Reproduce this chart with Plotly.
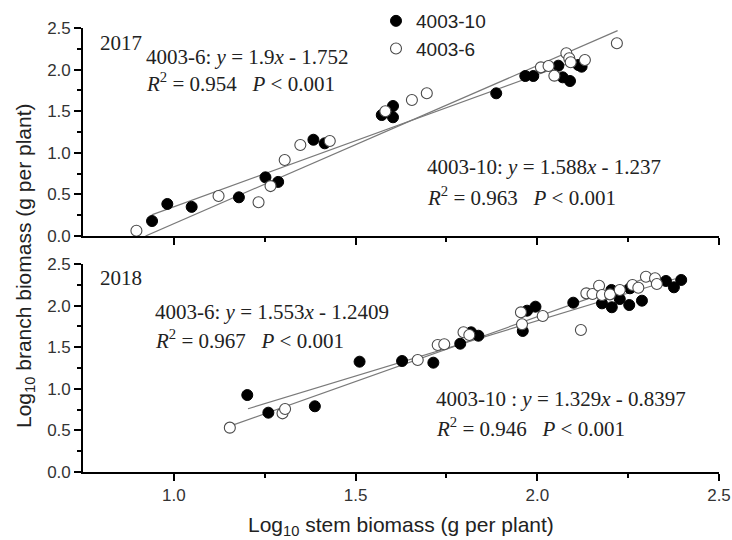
import plotly.graph_objects as go

# ---------------- data ----------------
# 2017 panel
x17_10 = [0.940, 0.982, 1.049, 1.179, 1.252, 1.287, 1.384, 1.415, 1.572, 1.603, 1.603,
          1.887, 1.967, 1.989, 2.058, 2.070, 2.090, 2.113, 2.122]
y17_10 = [0.18, 0.385, 0.35, 0.465, 0.705, 0.65, 1.157, 1.114, 1.454, 1.5625, 1.427,
          1.715, 1.923, 1.923, 2.047, 1.907, 1.863, 2.055, 2.035]
x17_6 = [0.897, 1.123, 1.233, 1.266, 1.305, 1.348, 1.429, 1.582, 1.655, 1.696,
         2.010, 2.031, 2.047, 2.080, 2.088, 2.092, 2.131, 2.219]
y17_6 = [0.064, 0.48, 0.405, 0.60, 0.913, 1.094, 1.142, 1.50, 1.635, 1.715,
         2.027, 2.043, 1.927, 2.196, 2.136, 2.088, 2.115, 2.316]

# 2018 panel
x18_10 = [1.202, 1.260, 1.388, 1.511, 1.628, 1.714, 1.788, 1.818, 1.838, 1.960, 1.972,
          1.995, 2.099, 2.178, 2.204, 2.205, 2.227, 2.253, 2.255, 2.288, 2.354, 2.376, 2.396]
y18_10 = [0.925, 0.713, 0.79, 1.326, 1.334, 1.314, 1.542, 1.679, 1.638, 1.695, 1.939,
          1.987, 2.035, 2.027, 2.188, 1.98, 2.079, 2.007, 2.208, 2.059, 2.296, 2.22, 2.308]
x18_6 = [1.154, 1.299, 1.306, 1.671, 1.726, 1.744, 1.797, 1.813, 1.955, 1.958, 2.015,
         2.120, 2.135, 2.152, 2.170, 2.178, 2.200, 2.227, 2.262, 2.278, 2.299, 2.324, 2.329]
y18_6 = [0.533, 0.705, 0.757, 1.346, 1.526, 1.535, 1.679, 1.647, 1.919, 1.775, 1.875,
         1.707, 2.147, 2.139, 2.239, 2.127, 2.135, 2.188, 2.248, 2.215, 2.347, 2.328, 2.26]

# regression fits stated on the chart: slope, intercept, x range
fit17_6 = (1.9, -1.752, [0.922, 2.221])
fit17_10 = (1.588, -1.237, [0.939, 2.122])
fit18_6 = (1.553, -1.2409, [1.154, 2.33])
fit18_10 = (1.329, -0.8397, [1.204, 2.38])

x_ticks = [1.0, 1.5, 2.0, 2.5]
x_minor = [1.25, 1.75, 2.25]
y_ticks = [0.0, 0.5, 1.0, 1.5, 2.0, 2.5]
y_minor = [0.25, 0.75, 1.25, 1.75, 2.25]

# ---------------- figure ----------------
W, H = 732, 540
ML, MR, MT, MB = 83, 13, 28, 68
plot_w = W - ML - MR
plot_h = H - MT - MB


def py(p):
    """pixel row -> paper y"""
    return (H - MB - p) / plot_h


def px(p):
    """pixel column -> paper x"""
    return (p - ML) / plot_w


fig = go.Figure()

filled = dict(color="black", size=11, line=dict(color="black", width=1))
hollow = dict(color="white", size=11, line=dict(color="#4a4a4a", width=1.1))
line_style = dict(color="#7a7a7a", width=1.2)

for (a, b, xr), xa, ya in [(fit17_6, "x", "y"), (fit17_10, "x", "y"),
                           (fit18_6, "x2", "y2"), (fit18_10, "x2", "y2")]:
    fig.add_trace(go.Scatter(x=xr, y=[a * v + b for v in xr], mode="lines",
                             line=line_style, showlegend=False, hoverinfo="skip",
                             xaxis=xa, yaxis=ya))

fig.add_trace(go.Scatter(x=x17_10, y=y17_10, mode="markers", marker=filled, name="4003-10",
                         legendgroup="a", cliponaxis=False, xaxis="x", yaxis="y"))
fig.add_trace(go.Scatter(x=x17_6, y=y17_6, mode="markers", marker=hollow, name="4003-6",
                         legendgroup="b", cliponaxis=False, xaxis="x", yaxis="y"))
fig.add_trace(go.Scatter(x=x18_10, y=y18_10, mode="markers", marker=filled, name="4003-10",
                         legendgroup="a", showlegend=False, cliponaxis=False,
                         xaxis="x2", yaxis="y2"))
fig.add_trace(go.Scatter(x=x18_6, y=y18_6, mode="markers", marker=hollow, name="4003-6",
                         legendgroup="b", showlegend=False, cliponaxis=False,
                         xaxis="x2", yaxis="y2"))

tickfont = dict(family="Liberation Sans, Arial", size=17, color="#333333")
common_x = dict(range=[0.75, 2.5], tickvals=x_ticks, ticks="outside", ticklen=7, tickwidth=1.5,
                tickcolor="black", showline=True, linecolor="black", linewidth=1.6,
                showgrid=False, zeroline=False, tickfont=tickfont,
                minor=dict(tickvals=x_minor, ticks="outside", ticklen=4,
                           tickwidth=1.5, tickcolor="black", showgrid=False))
common_y = dict(range=[0, 2.5], tickvals=y_ticks,
                ticks="outside", ticklen=7, tickwidth=1.5, tickcolor="black",
                showline=True, linecolor="black", linewidth=1.6, showgrid=False,
                zeroline=False, tickfont=tickfont,
                minor=dict(tickvals=y_minor, ticks="outside",
                           ticklen=4, tickwidth=1.5, tickcolor="black", showgrid=False))

fig.update_layout(
    width=W, height=H,
    margin=dict(l=ML, r=MR, t=MT, b=MB, autoexpand=False),
    plot_bgcolor="white", paper_bgcolor="white",
    xaxis=dict(common_x, anchor="y", showticklabels=False),
    yaxis=dict(common_y, anchor="x", domain=[py(236), 1.0], tickformat=".1f"),
    xaxis2=dict(common_x, anchor="y2", tickformat=".1f", ticklabeloverflow="allow"),
    yaxis2=dict(common_y, anchor="x2", domain=[0.0, py(264)], tickformat=".1f"),
    legend=dict(x=px(376), y=py(2), xanchor="left", yanchor="top",
                font=dict(family="Liberation Sans, Arial", size=19, color="#222222"),
                bgcolor="rgba(0,0,0,0)", tracegroupgap=0, itemwidth=30),
    showlegend=True,
)

serif = dict(family="Liberation Serif, Times New Roman", size=21, color="#222222")
sp = "\u00a0\u00a0\u00a0"
annots = [
    ("x", "y", 0.790, 2.32, "2017"),
    ("x", "y", 0.918, 2.15, "4003-6: <i>y</i> = 1.9<i>x</i> - 1.752"),
    ("x", "y", 0.918, 1.84, "<i>R</i><sup>2</sup> = 0.954" + sp + "<i>P</i> &lt; 0.001"),
    ("x", "y", 1.692, 0.83, "4003-10: <i>y</i> = 1.588<i>x</i> - 1.237"),
    ("x", "y", 1.692, 0.47, "<i>R</i><sup>2</sup> = 0.963" + sp + "<i>P</i> &lt; 0.001"),
    ("x2", "y2", 0.790, 2.33, "2018"),
    ("x2", "y2", 0.942, 1.92, "4003-6: <i>y</i> = 1.553<i>x</i> - 1.2409"),
    ("x2", "y2", 0.942, 1.59, "<i>R</i><sup>2</sup> = 0.967" + sp + "<i>P</i> &lt; 0.001"),
    ("x2", "y2", 1.717, 0.877, "4003-10 : <i>y</i> = 1.329<i>x</i> - 0.8397"),
    ("x2", "y2", 1.717, 0.53, "<i>R</i><sup>2</sup> = 0.946" + sp + "<i>P</i> &lt; 0.001"),
]
for xr, yr, xv, yv, txt in annots:
    fig.add_annotation(xref=xr, yref=yr, x=xv, y=yv, text=txt, showarrow=False,
                       xanchor="left", yanchor="middle", font=serif)

fig.add_annotation(xref="paper", yref="paper", x=px(401), y=py(526),
                   text="Log<sub>10</sub> stem biomass (g per plant)", showarrow=False,
                   xanchor="center", yanchor="middle",
                   font=dict(family="Liberation Sans, Arial", size=21, color="#222222"))
fig.add_annotation(xref="paper", yref="paper", x=px(25), y=py(266),
                   text="Log<sub>10</sub> branch biomass (g per plant)", showarrow=False,
                   textangle=-90, xanchor="center", yanchor="middle",
                   font=dict(family="Liberation Sans, Arial", size=21, color="#222222"))

fig.write_html("out.html",
               config={"displayModeBar": False},
               post_script="document.body.style.margin='0';"
                           "document.body.style.overflow='hidden';")
